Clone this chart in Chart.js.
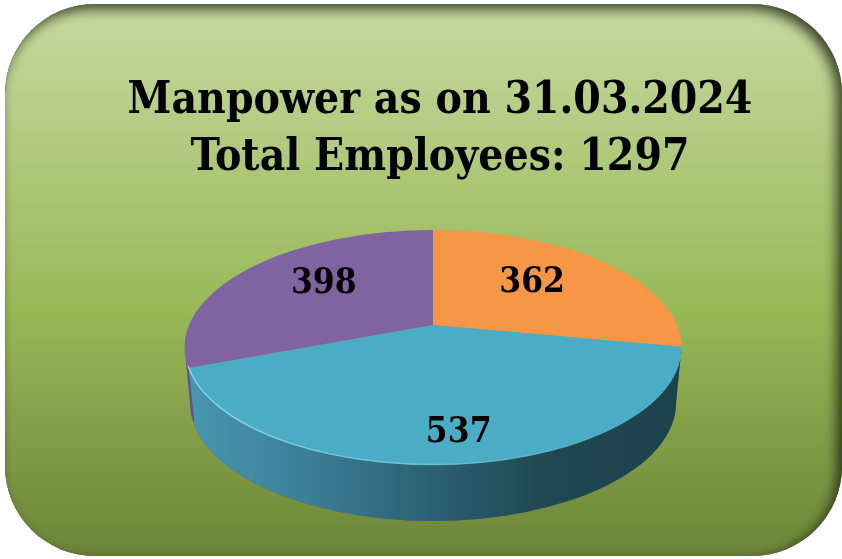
<!DOCTYPE html>
<html>
<head>
<meta charset="utf-8">
<title>Manpower as on 31.03.2024</title>
<script src="https://cdn.jsdelivr.net/npm/chart.js@4"></script>
<style>
  html, body { margin: 0; padding: 0; background: #fff; }
  canvas { display: block; }
</style>
</head>
<body>
<canvas id="manpowerChart" width="842" height="559"></canvas>
<script>
const titleLines = ["Manpower as on 31.03.2024", "Total Employees: 1297"];
const categories = ["Group A", "Group B", "Group C"];
const employees = [362, 537, 398];
const sliceColors = ["#f79646", "#4bacc6", "#8064a2"];

// flattened pie: apex sits above the middle of the top face, as in a perspective view
const apex = { x: 433, y: 325 };
const squash = 0.47;
const topFace = { x: 433, y: 347.5, rx: 248.5, ry: 117.5 };
const lowFace = { x: 433, y: 403, rx: 243, ry: 118 };
const labelDistance = [129, 226, 133];
const labelLift = [3, -2, 5];
const labelNudge = [0, 6, 0];

function roundedPanel(ctx, x, y, w, h, r) {
  ctx.beginPath();
  ctx.roundRect(x, y, w, h, r);
}

const panelPlugin = {
  id: "panel",
  beforeDraw(chart) {
    const ctx = chart.ctx;
    const g = ctx.createLinearGradient(0, 4, 0, 556);
    g.addColorStop(0, "#c6d9a0");
    g.addColorStop(0.55, "#99b958");
    g.addColorStop(1, "#6b8538");

    ctx.save();
    roundedPanel(ctx, 5, 4, 837, 552, 90);
    ctx.fillStyle = g;
    ctx.fill();
    ctx.clip();

    // inner shadow, mostly on the top and right edges
    ctx.beginPath();
    ctx.rect(-100, -100, 1042, 759);
    ctx.roundRect(5, 4, 837, 552, 90);
    ctx.shadowColor = "rgba(20,25,10,0.8)";
    ctx.shadowBlur = 13;
    ctx.shadowOffsetX = -5;
    ctx.shadowOffsetY = 5;
    ctx.fillStyle = "#000";
    ctx.fill("evenodd");
    ctx.restore();
  }
};

function wallPath(ctx) {
  ctx.beginPath();
  ctx.ellipse(topFace.x, topFace.y, topFace.rx, topFace.ry, 0, Math.PI, 0, true);
  ctx.lineTo(lowFace.x + lowFace.rx, lowFace.y);
  ctx.ellipse(lowFace.x, lowFace.y, lowFace.rx, lowFace.ry, 0, 0, Math.PI, false);
  ctx.closePath();
}

const piePlugin = {
  id: "pie3d",
  beforeDatasetsDraw(chart) {
    const ctx = chart.ctx;

    // purple sliver of the wall at far left
    ctx.save();
    wallPath(ctx);
    ctx.fillStyle = "#6b4f87";
    ctx.fill();
    ctx.restore();

    // blue wall, starts where the blue slice meets the rim
    const g = ctx.createLinearGradient(190, 0, 676, 0);
    g.addColorStop(0, "#4597af");
    g.addColorStop(0.22, "#3d8199");
    g.addColorStop(0.5, "#2b6074");
    g.addColorStop(0.72, "#204853");
    g.addColorStop(1, "#1c424d");
    ctx.save();
    ctx.beginPath();
    ctx.moveTo(188, 360);
    ctx.lineTo(194, 418);
    ctx.lineTo(194, 559);
    ctx.lineTo(842, 559);
    ctx.lineTo(842, 340);
    ctx.closePath();
    ctx.clip();
    wallPath(ctx);
    ctx.fillStyle = g;
    ctx.fill();
    ctx.restore();
  },
  beforeDatasetDraw(chart) {
    const ctx = chart.ctx;
    const arc = chart.getDatasetMeta(0).data[0];
    ctx.save();
    ctx.beginPath();
    ctx.ellipse(topFace.x, topFace.y, topFace.rx, topFace.ry, 0, 0, Math.PI * 2);
    ctx.clip();
    ctx.translate(apex.x, apex.y);
    ctx.scale(1, squash);
    ctx.translate(-arc.x, -arc.y);
  },
  afterDatasetDraw(chart) {
    chart.ctx.restore();
  },
  afterDatasetsDraw(chart) {
    const ctx = chart.ctx;

    // light edge on the front rim
    const h = ctx.createLinearGradient(188, 0, 640, 0);
    h.addColorStop(0, "rgba(135,220,240,0.95)");
    h.addColorStop(0.5, "rgba(125,210,230,0.6)");
    h.addColorStop(1, "rgba(125,210,230,0)");
    ctx.save();
    ctx.beginPath();
    ctx.ellipse(topFace.x, topFace.y, topFace.rx - 0.5, topFace.ry - 0.5, 0, Math.PI - 0.16, 0.5, true);
    ctx.strokeStyle = h;
    ctx.lineWidth = 1.4;
    ctx.stroke();
    ctx.restore();

    // value labels
    ctx.save();
    ctx.font = "bold 35px 'DejaVu Serif Condensed'";
    ctx.fillStyle = "#000";
    ctx.textAlign = "center";
    ctx.textBaseline = "middle";
    chart.getDatasetMeta(0).data.forEach(function (arc, i) {
      const mid = (arc.startAngle + arc.endAngle) / 2;
      const x = apex.x + Math.cos(mid) * labelDistance[i] + labelNudge[i];
      const y = apex.y + Math.sin(mid) * labelDistance[i] * squash - labelLift[i];
      ctx.fillText(String(employees[i]), x, y);
    });
    ctx.restore();
  }
};

new Chart(document.getElementById("manpowerChart"), {
  type: "pie",
  data: {
    labels: categories,
    datasets: [
      {
        data: employees,
        backgroundColor: sliceColors,
        borderWidth: 0,
        radius: 320,
        clip: false
      }
    ]
  },
  options: {
    responsive: false,
    animation: false,
    events: [],
    layout: { padding: { top: 73, left: 38 } },
    plugins: {
      legend: { display: false },
      tooltip: { enabled: false },
      title: {
        display: true,
        text: titleLines,
        color: "#000",
        font: { family: "'DejaVu Serif Condensed'", size: 44, weight: "bold", lineHeight: 1.295 },
        padding: 0
      }
    }
  },
  plugins: [panelPlugin, piePlugin]
});
</script>
</body>
</html>
